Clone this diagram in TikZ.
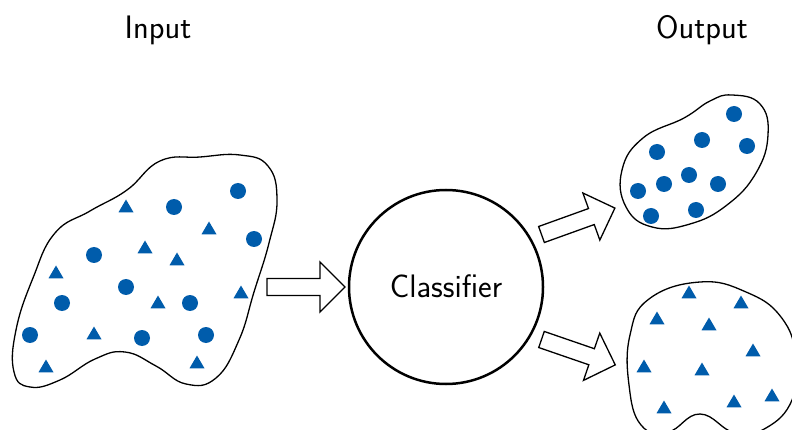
\documentclass[tikz,border=0pt]{standalone}
\usepackage{fontspec}
\definecolor{dotblue}{RGB}{0,92,171}
\tikzset{
  blob/.style={draw=black, line width=1.3pt, fill=white},
  blockarrow/.style={draw=black, line width=1.3pt, fill=white, line join=miter},
  lbl/.style={font=\sffamily\fontsize{32.5}{38}\selectfont, inner sep=0pt, anchor=base},
}
\newcommand{\mydot}[2]{\fill[dotblue] (#1,#2) circle (8);}
\newcommand{\mytri}[2]{\fill[dotblue] (#1-7.5,#2+6.3) -- (#1+7.5,#2+6.3) -- (#1,#2-6.5) -- cycle;}
\newcommand{\myarrow}[3]{%
  \begin{scope}[shift={(#1,#2)}, rotate=#3]
    \draw[blockarrow] (0,-8.5) -- (53,-8.5) -- (53,-25) -- (78,0) -- (53,25) -- (53,8.5) -- (0,8.5) -- cycle;
  \end{scope}}
\begin{document}
\begin{tikzpicture}[x=1pt, y=-1pt]
\useasboundingbox (0,0) rectangle (792,430);
\clip (0,0) rectangle (792,430);
% labels
\node[lbl] (inlbl) at (158,39) {Input};
\node[lbl] (outlbl) at (702,39) {Output};
% left blob
\draw[blob] plot[smooth cycle, tension=0.75] coordinates {
 (127,190) (160,161) (200,157) (240,155) (268,166) (277,200) (269,243) (254,292)
 (239,340) (216,378) (186,384) (156,366) (125,352) (95,359) (60,380) (30,387)
 (14,372) (16,330) (33,278) (55,233) (90,211)};
% upper right blob
\draw[blob] plot[smooth cycle, tension=0.75] coordinates {
 (732,95) (760,104) (768,135) (756,173) (727,205) (690,224) (652,227) (626,207)
 (622,170) (643,138) (684,118) (710,101)};
% lower right blob
\draw[blob] plot[smooth cycle, tension=0.75] coordinates {
 (700,282) (746,292) (781,317) (796,357) (792,400) (766,428) (735,433) (700,414)
 (668,432) (641,425) (629,385) (630,335) (649,299)};
% left blob dots
\mydot{238}{191}\mydot{174}{207}\mydot{254}{239}\mydot{94}{255}\mydot{126}{287}
\mydot{62}{303}\mydot{190}{303}\mydot{30}{335}\mydot{142}{338}\mydot{206}{335}
\mytri{126}{206}\mytri{209}{228}\mytri{145}{247}\mytri{177}{259}\mytri{56}{272}
\mytri{158}{302}\mytri{241}{292}\mytri{94}{333}\mytri{46}{366}\mytri{197}{362}
% upper right dots
\mydot{734}{114}\mydot{702}{140}\mydot{747}{146}\mydot{657}{152}\mydot{689}{175}
\mydot{664}{184}\mydot{718}{184}\mydot{638}{191}\mydot{651}{216}\mydot{696}{210}
% lower right triangles
\mytri{689}{292}\mytri{741}{302}\mytri{657}{318}\mytri{709}{324}\mytri{753}{350}
\mytri{644}{366}\mytri{702}{369}\mytri{664}{407}\mytri{734}{401}\mytri{772}{395}
% classifier
\node[circle, draw=black, line width=2.5pt, minimum size=194pt, inner sep=0pt] (clf) at (446,287) {};
\node[lbl] (clftxt) at (446,298) {Classifier};
% arrows
\myarrow{267}{287}{0}
\myarrow{541.5}{234.5}{19.8}
\myarrow{541.5}{339.5}{-19}
\end{tikzpicture}
\end{document}
